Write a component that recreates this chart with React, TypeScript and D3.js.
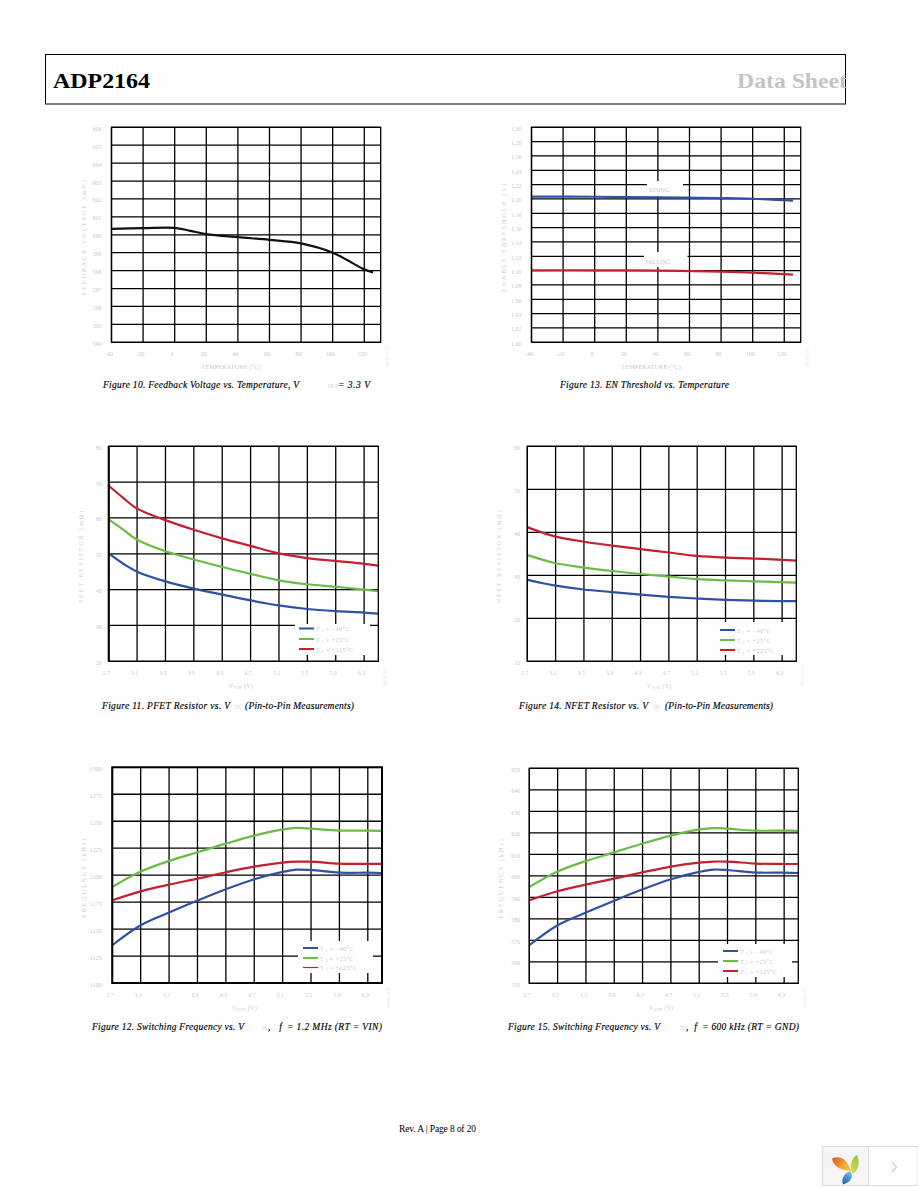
import React from "react";
import * as d3 from "d3";

// ---------- data ----------
const tempTicks = [-40, -20, 0, 20, 40, 60, 80, 100, 120];
const vinTicks = [2.7, 3.1, 3.5, 3.9, 4.3, 4.7, 5.1, 5.5, 5.9, 6.3];

const fbTemp = [-40, -20, 0, 10, 20, 40, 60, 80, 100, 120, 125.5];
const fbVoltage = [600.33, 600.37, 600.39, 600.22, 600.04, 599.87, 599.72, 599.52, 599.0, 598.07, 597.9];
const fbTicks = [594, 595, 596, 597, 598, 599, 600, 601, 602, 603, 604, 605, 606];

const enTemp = [-40, 0, 40, 80, 100, 125.5];
const enRising = [1.2033, 1.2031, 1.2022, 1.2012, 1.2003, 1.1977];
const enFalling = [1.1005, 1.1005, 1.1, 1.0985, 1.0972, 1.0945];
const enTicks = [1.0, 1.02, 1.04, 1.06, 1.08, 1.1, 1.12, 1.14, 1.16, 1.18, 1.2, 1.22, 1.24, 1.26, 1.28, 1.3];

const rVin = [2.7, 2.9, 3.1, 3.5, 3.9, 4.3, 4.7, 5.1, 5.5, 5.9, 6.3, 6.5];
const pfetBlue = [50.1, 47.3, 45, 42.3, 40.3, 38.6, 37, 35.6, 34.6, 34, 33.6, 33.3];
const pfetGreen = [59.6, 56.8, 53.9, 50.7, 48.4, 46.3, 44.4, 42.6, 41.5, 40.8, 40, 39.6];
const pfetRed = [69, 65.7, 62.6, 59.4, 56.7, 54.3, 52.2, 50.1, 48.8, 48, 47.2, 46.7];
const pfetTicks = [20, 30, 40, 50, 60, 70, 80];

const nfetBlue = [29, 28.2, 27.6, 26.7, 26.1, 25.5, 25, 24.6, 24.3, 24.1, 24, 24];
const nfetGreen = [34.7, 33.7, 32.8, 31.8, 31, 30.3, 29.7, 29.1, 28.8, 28.6, 28.4, 28.3];
const nfetRed = [41.2, 40, 39, 37.8, 36.9, 36.1, 35.3, 34.5, 34.1, 33.9, 33.6, 33.4];
const nfetTicks = [10, 20, 30, 40, 50, 60];

const fVin = [2.7, 3.1, 3.5, 3.9, 4.3, 4.7, 5.1, 5.3, 5.5, 5.9, 6.3, 6.5];
const f12Blue = [1135, 1153.5, 1165.3, 1176.4, 1186.9, 1196.2, 1203, 1205.1, 1204.8, 1202.3, 1202.3, 1202];
const f12Green = [1189, 1203.3, 1213.2, 1221.2, 1229.2, 1236.6, 1242.5, 1243.8, 1243.1, 1241.3, 1241.3, 1241];
const f12Red = [1176.7, 1185, 1191.2, 1196.8, 1202.7, 1207.9, 1211.6, 1212.5, 1212.5, 1210.7, 1210.4, 1210.4];
const f12Ticks = [1100, 1125, 1150, 1175, 1200, 1225, 1250, 1275, 1300];

const f6Blue = [567.7, 577, 582.9, 588.4, 593.7, 598.4, 601.8, 602.9, 602.7, 601.5, 601.5, 601.3];
const f6Green = [594.8, 602, 606.9, 610.9, 615, 618.7, 621.6, 622.2, 621.9, 621, 621, 620.9];
const f6Red = [588.6, 592.8, 595.9, 598.7, 601.6, 604.3, 606.1, 606.6, 606.6, 605.7, 605.5, 605.5];
const f6Ticks = [550, 560, 570, 580, 590, 600, 610, 620, 630, 640, 650];

const tjLabels = [" = −40°C", " = +25°C", " = +125°C"];

// ---------- style ----------
const BLUE = "#2f50a3";
const GREEN = "#69bd45";
const RED = "#c5202f";
const TICK = "#c8c8c8";
const SERIF = "'Liberation Serif', serif";

type Box = { l: number; r: number; t: number; b: number };
type Series = { xs: number[]; ys: number[]; color: string; w?: number };
type Patch = { x0: number; x1: number; y0: number; y1: number };

function tempDomain() { return [-40, 130.4]; }
function vinDomain() { return [2.7, 6.5]; }

function Panel(p: {
  box: Box; xDomain: number[]; xTicks: number[]; xFmt: (v: number) => string;
  yTicks: number[]; yFmt: (v: number) => string; series: Series[];
  yTitle: string; xTitle: React.ReactNode; xTitleShift: number; border: number; leftBorder?: number;
  yLabelGap: number; patches: Patch[]; legend?: { x: number; ys: number[]; third?: number };
  tags?: { text: string; x: number; y: number }[]; id: string;
}) {
  const { box } = p;
  const x = d3.scaleLinear().domain(p.xDomain).range([box.l, box.r]);
  const y = d3.scaleLinear().domain(d3.extent(p.yTicks) as [number, number]).range([box.b, box.t]);
  const line = d3.line<[number, number]>().x(d => x(d[0])).y(d => y(d[1])).curve(d3.curveCatmullRom.alpha(0.5));
  const midY = (box.t + box.b) / 2;
  return (
    <g>
      {p.xTicks.map(v => (
        <line key={v} x1={x(v)} x2={x(v)} y1={box.t} y2={box.b} stroke="#000" strokeWidth={1.3} />
      ))}
      {p.yTicks.map(v => (
        <line key={v} x1={box.l} x2={box.r} y1={y(v)} y2={y(v)} stroke="#000" strokeWidth={1.3} />
      ))}
      {p.patches.map((q, i) => (
        <rect key={i} x={q.x0} y={q.y0} width={q.x1 - q.x0} height={q.y1 - q.y0} fill="#fff" />
      ))}
      {p.series.map((s, i) => (
        <path key={i} d={line(s.xs.map((v, j) => [v, s.ys[j]] as [number, number])) || ""} fill="none"
          stroke={s.color} strokeWidth={s.w ?? 2.2} />
      ))}
      <rect x={box.l} y={box.t} width={box.r - box.l} height={box.b - box.t} fill="none" stroke="#000" strokeWidth={p.border} />
      {p.leftBorder ? <line x1={box.l} x2={box.l} y1={box.t} y2={box.b} stroke="#000" strokeWidth={p.leftBorder} /> : null}
      {p.xTicks.map(v => (
        <text key={v} x={x(v) - 2.5} y={box.b + 14} fontSize={6} fill={TICK} textAnchor="middle" fontFamily={SERIF}>{p.xFmt(v)}</text>
      ))}
      {p.yTicks.map(v => (
        <text key={v} x={box.l - p.yLabelGap} y={y(v) + 3.5} fontSize={6} fill={TICK} textAnchor="end" fontFamily={SERIF}>{p.yFmt(v)}</text>
      ))}
      <text transform={`translate(${box.l - 26},${midY + 2}) rotate(-90)`} fontSize={6} letterSpacing={2} fill={TICK} textAnchor="middle" fontFamily={SERIF}>{p.yTitle}</text>
      <text x={(box.l + box.r) / 2 + p.xTitleShift} y={box.b + 27} fontSize={6} letterSpacing={0.3} fill={TICK} textAnchor="middle" fontFamily={SERIF}>{p.xTitle}</text>
      <text transform={`translate(${box.r + 8},${box.b + 25}) rotate(-90)`} fontSize={4} letterSpacing={0.4} fill="#e2e2e2" fontFamily={SERIF}>{p.id}</text>
      {p.legend ? p.legend.ys.map((ly, i) => (
        <g key={i}>
          <line x1={p.legend!.x} x2={p.legend!.x + 15} y1={ly} y2={ly} stroke={[BLUE, GREEN, RED][i]} strokeWidth={i === 2 && p.legend!.third ? p.legend!.third : 2} />
          <text x={p.legend!.x + 17} y={ly + 2.5} fontSize={6} fill={TICK} fontFamily={SERIF} letterSpacing={0.5}>T<tspan fontSize={4} dy={1}> J</tspan><tspan dy={-1}>{tjLabels[i]}</tspan></text>
        </g>
      )) : null}
      {p.tags ? p.tags.map(t => (
        <text key={t.text} x={t.x} y={t.y} fontSize={6} fill={TICK} textAnchor="middle" fontFamily={SERIF}>{t.text}</text>
      )) : null}
    </g>
  );
}

function Cap(p: { x: number; x2: number; y: number; children: string }) {
  return (
    <text x={p.x} y={p.y} fontSize={9.5} fontStyle="italic" fontFamily={SERIF} fill="#000"
      textLength={p.x2 - p.x} lengthAdjust="spacing" stroke="#000" strokeWidth={0.15}>{p.children}</text>
  );
}
function Sub(p: { x: number; y: number; children: string }) {
  return <text x={p.x} y={p.y} fontSize={5.5} fill="#d0d0d0" fontFamily={SERIF}>{p.children}</text>;
}

const vinTitle = <>V<tspan fontSize={4.5} dy={1}>VIN</tspan><tspan dy={-1}> (V)</tspan></>;
const fmtV = (v: number) => v.toFixed(1);
const fmtI = (v: number) => String(v);
const fmt2 = (v: number) => v.toFixed(2);

export default function App() {
  return (
    <svg width={918} height={1188} viewBox="0 0 918 1188" style={{ position: "absolute", left: 0, top: 0, display: "block", background: "#fff" }}>
      <defs>
        <linearGradient id="petalO" x1="0" y1="0" x2="1" y2="0.6">
          <stop offset="0" stopColor="#e2571e" /><stop offset="1" stopColor="#f8c23c" />
        </linearGradient>
        <linearGradient id="petalG" x1="0.7" y1="0" x2="0.3" y2="1">
          <stop offset="0" stopColor="#9cc33a" /><stop offset="1" stopColor="#d7dc5a" />
        </linearGradient>
        <linearGradient id="petalB" x1="0.7" y1="0" x2="0.2" y2="1">
          <stop offset="0" stopColor="#7cc0e8" /><stop offset="1" stopColor="#1c5fb0" />
        </linearGradient>
      </defs>

      {/* header */}
      <rect x={45.5} y={54.5} width={800} height={49.5} fill="none" stroke="#000" strokeWidth={1} />
      <text x={53} y={87.5} fontSize={21} fontWeight="bold" fontFamily={SERIF} fill="#000" textLength={97} lengthAdjust="spacingAndGlyphs">ADP2164</text>
      <text x={737} y={87.5} fontSize={21} fontWeight="bold" fontFamily={SERIF} fill="#c4c4c4" textLength={110} lengthAdjust="spacingAndGlyphs">Data Sheet</text>

      <Panel id="09366-010" box={{ l: 111.5, r: 380.7, t: 127.3, b: 342.3 }} xDomain={tempDomain()} xTicks={tempTicks} xFmt={fmtI}
        yTicks={fbTicks} yFmt={fmtI} yTitle="FEEDBACK VOLTAGE (mV)" xTitle="TEMPERATURE (°C)" xTitleShift={-15} border={1.3} yLabelGap={10} patches={[]}
        series={[{ xs: fbTemp, ys: fbVoltage, color: "#111" }]} />

      <Panel id="09366-013" box={{ l: 531.5, r: 800.7, t: 127.3, b: 342.3 }} xDomain={tempDomain()} xTicks={tempTicks} xFmt={fmtI}
        yTicks={enTicks} yFmt={fmt2} yTitle="ENABLE THRESHOLD (V)" xTitle="TEMPERATURE (°C)" xTitleShift={-15} border={1.3} yLabelGap={10}
        patches={[{ x0: 647, x1: 683, y0: 181, y1: 196 }, { x0: 644, x1: 687.5, y0: 252, y1: 267 }]}
        tags={[{ text: "RISING", x: 659, y: 192 }, { text: "FALLING", x: 658, y: 264 }]}
        series={[{ xs: enTemp, ys: enRising, color: BLUE }, { xs: enTemp, ys: enFalling, color: RED }]} />

      <Panel id="09366-011" box={{ l: 108.7, r: 378.3, t: 446.3, b: 661.3 }} xDomain={vinDomain()} xTicks={vinTicks} xFmt={fmtV}
        yTicks={pfetTicks} yFmt={fmtI} yTitle="PFET RESISTOR (mΩ)" xTitle={vinTitle} xTitleShift={-2.5} border={1.3} leftBorder={2} yLabelGap={7}
        patches={[{ x0: 295, x1: 370, y0: 624, y1: 655 }]} legend={{ x: 299, ys: [628.5, 639, 649] }}
        series={[{ xs: rVin, ys: pfetBlue, color: BLUE }, { xs: rVin, ys: pfetGreen, color: GREEN }, { xs: rVin, ys: pfetRed, color: RED }]} />

      <Panel id="09366-014" box={{ l: 527.3, r: 796.3, t: 446.3, b: 661.3 }} xDomain={vinDomain()} xTicks={vinTicks} xFmt={fmtV}
        yTicks={nfetTicks} yFmt={fmtI} yTitle="NFET RESISTOR (mΩ)" xTitle={vinTitle} xTitleShift={-2.5} border={1.3} yLabelGap={7}
        patches={[{ x0: 715, x1: 788, y0: 622, y1: 655 }]} legend={{ x: 720, ys: [630, 640, 650] }}
        series={[{ xs: rVin, ys: nfetBlue, color: BLUE }, { xs: rVin, ys: nfetGreen, color: GREEN }, { xs: rVin, ys: nfetRed, color: RED }]} />

      <Panel id="09366-012" box={{ l: 112.3, r: 382, t: 767.3, b: 983 }} xDomain={vinDomain()} xTicks={vinTicks} xFmt={fmtV}
        yTicks={f12Ticks} yFmt={fmtI} yTitle="FREQUENCY (kHz)" xTitle={vinTitle} xTitleShift={-2.5} border={2} yLabelGap={10.5}
        patches={[{ x0: 298, x1: 373, y0: 941, y1: 973 }]} legend={{ x: 303, ys: [948, 958, 967.5], third: 1.2 }}
        series={[{ xs: fVin, ys: f12Blue, color: BLUE }, { xs: fVin, ys: f12Green, color: GREEN }, { xs: fVin, ys: f12Red, color: RED }]} />

      <Panel id="09366-015" box={{ l: 529.3, r: 798.3, t: 768.3, b: 983.3 }} xDomain={vinDomain()} xTicks={vinTicks} xFmt={fmtV}
        yTicks={f6Ticks} yFmt={fmtI} yTitle="FREQUENCY (kHz)" xTitle={vinTitle} xTitleShift={-2.5} border={1.3} yLabelGap={9}
        patches={[{ x0: 718, x1: 792, y0: 944, y1: 977 }]} legend={{ x: 723, ys: [951, 961, 971] }}
        series={[{ xs: fVin, ys: f6Blue, color: BLUE }, { xs: fVin, ys: f6Green, color: GREEN }, { xs: fVin, ys: f6Red, color: RED }]} />

      {/* captions */}
      <Cap x={103} x2={299} y={388}>Figure 10. Feedback Voltage vs. Temperature, V</Cap>
      <Sub x={328} y={388}>OUT</Sub>
      <Cap x={338} x2={370} y={388}>= 3.3 V</Cap>

      <Cap x={560} x2={729} y={388}>Figure 13. EN Threshold vs. Temperature</Cap>

      <Cap x={102} x2={230} y={709}>Figure 11. PFET Resistor vs. V</Cap>
      <Sub x={235} y={709}>IN</Sub>
      <Cap x={245} x2={354} y={709}>(Pin-to-Pin Measurements)</Cap>

      <Cap x={519} x2={648} y={709}>Figure 14. NFET Resistor vs. V</Cap>
      <Sub x={654} y={709}>IN</Sub>
      <Cap x={665} x2={773} y={709}>(Pin-to-Pin Measurements)</Cap>

      <Cap x={92} x2={244} y={1030}>Figure 12. Switching Frequency vs. V</Cap>
      <Sub x={262} y={1030}>IN</Sub>
      <Cap x={268} x2={282} y={1030}>, f</Cap>
      <Cap x={287} x2={382} y={1030}>= 1.2 MHz (RT = VIN)</Cap>

      <Cap x={508} x2={660} y={1030}>Figure 15. Switching Frequency vs. V</Cap>
      <Sub x={680} y={1030}>IN</Sub>
      <Cap x={686} x2={697} y={1030}>, f</Cap>
      <Cap x={702} x2={799} y={1030}>= 600 kHz (RT = GND)</Cap>

      {/* footer */}
      <text x={399} y={1132} fontSize={9.5} fontFamily={SERIF} fill="#000" textLength={77}>Rev. A | Page 8 of 20</text>

      {/* corner widget */}
      <rect x={822.5} y={1146.5} width={46} height={39} fill="#f5f5f5" stroke="#ddd" />
      <rect x={868.5} y={1146.5} width={49.5} height={39} fill="#fff" stroke="#ddd" />
      <path d="M832 1158.5 C839 1155 847 1158 851 1171 C843 1171 833 1167 832 1158.5 Z" fill="url(#petalO)" />
      <path d="M857 1155 C860 1162 859 1170 852.5 1174 C849 1167 851 1158 857 1155 Z" fill="url(#petalG)" />
      <path d="M850 1171 C854 1175 852 1182 843 1184.5 C841 1179 844 1173 850 1171 Z" fill="url(#petalB)" />
      <path d="M892 1162 L896.5 1167 L892 1172" fill="none" stroke="#aaa" strokeWidth={1} />
    </svg>
  );
}
